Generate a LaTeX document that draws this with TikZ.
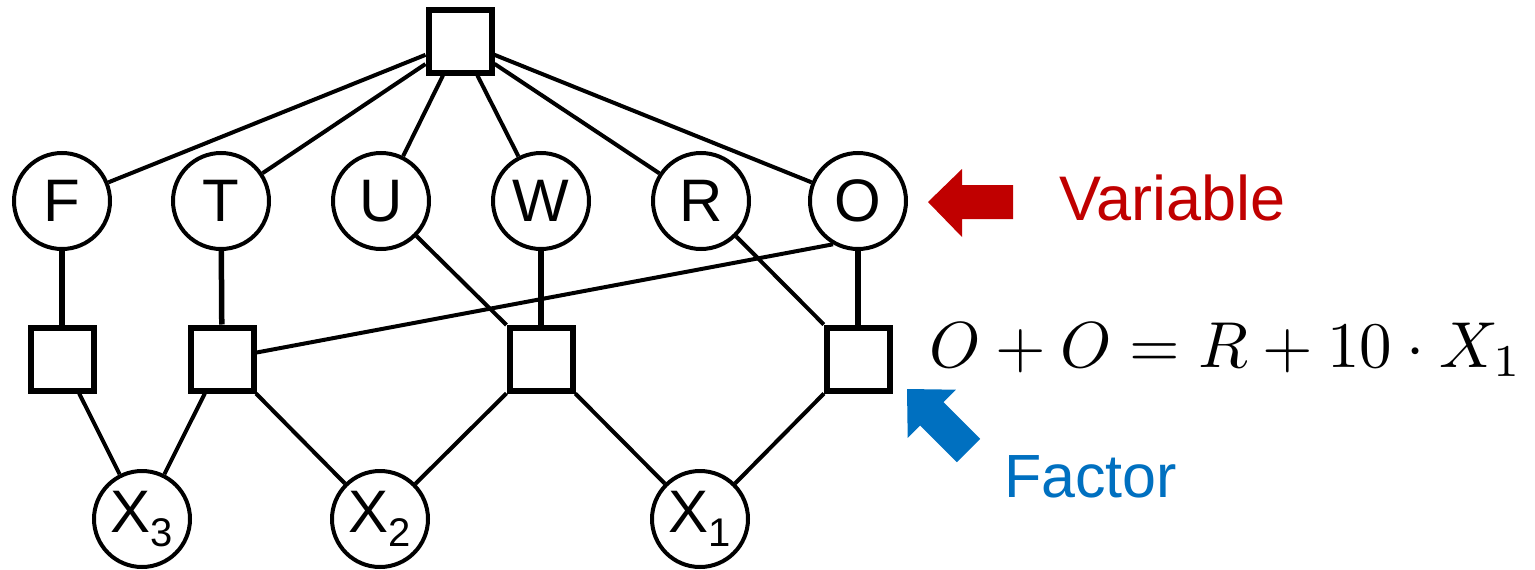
\documentclass[tikz,border=0pt]{standalone}
\usepackage{graphicx}
\usepackage[no-math]{fontspec}
\newfontfamily\arial{Liberation Sans}
\definecolor{varred}{RGB}{192,0,0}
\definecolor{facblue}{RGB}{0,112,192}
\tikzset{
  var/.style={circle, draw, line width=4pt, fill=white, minimum size=96pt, inner sep=0pt,
    font=\arial\fontsize{60}{60}\selectfont},
  fac/.style={rectangle, draw, line width=6pt, fill=white, minimum size=63pt, inner sep=0pt},
  edge/.style={line width=4pt},
  vedge/.style={line width=5.5pt},
}
\newcommand{\subx}[1]{X\raisebox{-14pt}{\fontsize{40}{40}\selectfont #1}}
\begin{document}
\begin{tikzpicture}[x=1pt,y=-1pt]
\useasboundingbox (0,0) rectangle (1535,570);
% nodes
\node[fac] (top) at (460,41) {};
\node[var] (F) at (62,201) {F};
\node[var] (T) at (221,201) {T};
\node[var] (U) at (381,201) {U};
\node[var] (W) at (541,201) {W};
\node[var] (R) at (701,201) {R};
\node[var] (O) at (858,201) {O};
\node[fac] (f1) at (62,359) {};
\node[fac] (f2) at (222,359) {};
\node[fac] (f3) at (541,359) {};
\node[fac] (f4) at (858,359) {};
\node[var] (X3) at (142,519) {\subx{3}};
\node[var] (X2) at (380,519) {\subx{2}};
\node[var] (X1) at (700,519) {\subx{1}};
% edges
\foreach \v in {F,T,U,W,R,O} \draw[edge] (top) -- (\v);
\draw[vedge] (F) -- (f1);
\draw[vedge] (T) -- (f2);
\draw[vedge] (W) -- (f3);
\draw[vedge] (O) -- (f4);
\draw[edge] (O.240) -- (f2);
\draw[edge] (U) -- (f3);
\draw[edge] (R) -- (f4);
\draw[edge] (f1) -- (X3);
\draw[edge] (f2) -- (X3);
\draw[edge] (f2) -- (X2);
\draw[edge] (f3) -- (X2);
\draw[edge] (f3) -- (X1);
\draw[edge] (f4) -- (X1);
% annotations
\fill[varred] (928,202) -- (962,169) -- (962,185) -- (1013,185) -- (1013,219) -- (962,219) -- (962,237) -- cycle;
\node[anchor=base west, inner sep=0pt, text=varred, font=\arial\fontsize{63}{64}\selectfont] (vlab) at (1059,220) {Variable};
\fill[facblue] (907,389) -- (955.8,389.7) -- (943.4,402.1) -- (980.2,438.9) -- (956.9,462.2) -- (920.1,425.4) -- (907.7,437.8) -- cycle;
\node[anchor=base west, inner sep=0pt, text=facblue, font=\arial\fontsize{61}{62}\selectfont] (flab) at (1004,497) {Factor};
\node[anchor=base west, inner sep=0pt] (eq) at (929,367) {\scalebox{6.5}{$O+O=R+10\cdot X_1$}};
\end{tikzpicture}
\end{document}
